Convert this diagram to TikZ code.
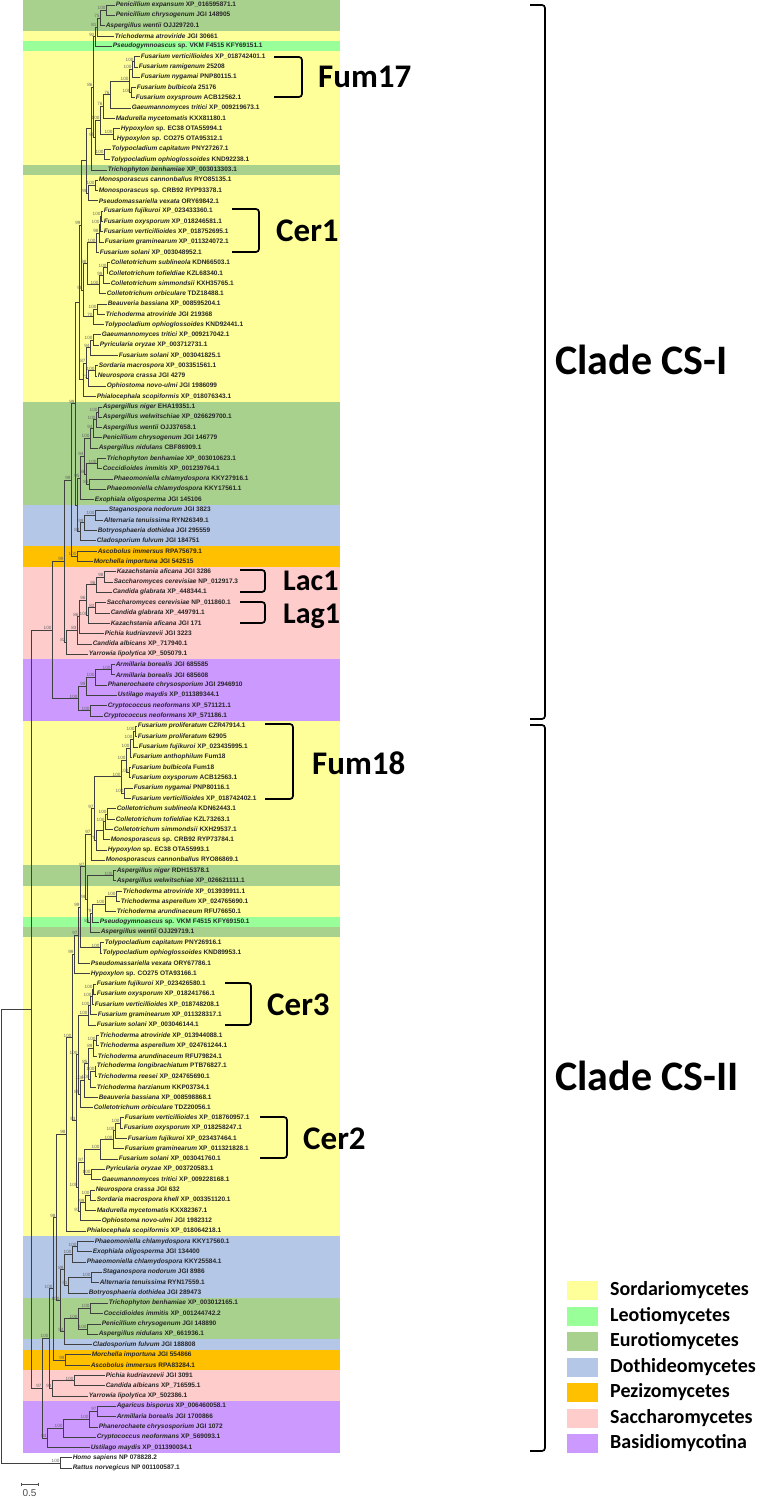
\documentclass[tikz,border=0pt]{standalone}
\usepackage{fontspec}
\setmainfont{Liberation Sans}
\newfontfamily\carl{Carlito}
\usetikzlibrary{calc}
\definecolor{cSor}{RGB}{255,255,153}
\definecolor{cLeo}{RGB}{153,255,153}
\definecolor{cEur}{RGB}{169,209,142}
\definecolor{cDot}{RGB}{180,199,231}
\definecolor{cPez}{RGB}{255,192,0}
\definecolor{cSac}{RGB}{255,204,204}
\definecolor{cBas}{RGB}{204,153,255}
\newcommand\band[3]{\fill[#1] (23,{5+(#2-1.5)*10.303}) rectangle (340,{5+(#3-0.5)*10.303});}
\newcommand\lf[4]{\coordinate (L#1) at (#2,{5+(#1-1)*10.303}); \node[leaf] at (L#1) {\textit{#3} #4};}
\newcommand\cl[5]{\path let \p1=($(#4)!0.5!(#5)$) in (#2pt,\y1) coordinate (#1); \draw[br] (#1) |- (#4); \draw[br] (#1) |- (#5); \node[bs] at (#1) {#3};}
\begin{document}
\begin{tikzpicture}[x=1pt,y=-1pt,
  leaf/.style={anchor=west,inner sep=0.6pt,font=\fontsize{6.5}{7}\selectfont\bfseries,text=black!85},
  br/.style={draw=black!75,line width=0.55pt},
  bs/.style={anchor=south east,inner sep=0.2pt,xshift=-0.2pt,font=\fontsize{4.6}{5}\selectfont,text=black!60},
  brk/.style={draw=black,line width=1.7pt,rounded corners=3pt},
  big/.style={anchor=west,inner sep=0pt,font=\carl\bfseries\fontsize{33}{33}\selectfont},
  bigs/.style={anchor=west,inner sep=0pt,font=\carl\bfseries\fontsize{30}{30}\selectfont},
  clade/.style={anchor=west,inner sep=0pt,font=\carl\bfseries\fontsize{42}{42}\selectfont},
  leg/.style={anchor=west,inner sep=0pt,font=\carl\bfseries\fontsize{20}{20}\selectfont}]
\useasboundingbox (0,0) rectangle (776,1498);
\fill[white] (0,0) rectangle (776,1498);
% bands
\band{cEur}{1}{3}
\band{cSor}{4}{4}
\band{cLeo}{5}{5}
\band{cSor}{6}{16}
\band{cEur}{17}{17}
\band{cSor}{18}{39}
\band{cEur}{40}{49}
\band{cDot}{50}{53}
\band{cPez}{54}{55}
\band{cSac}{56}{64}
\band{cBas}{65}{70}
\band{cSor}{71}{84}
\band{cEur}{85}{86}
\band{cSor}{87}{89}
\band{cLeo}{90}{90}
\band{cEur}{91}{91}
\band{cSor}{92}{120}
\band{cDot}{121}{126}
\band{cEur}{127}{130}
\band{cDot}{131}{131}
\band{cPez}{132}{133}
\band{cSac}{134}{136}
\band{cBas}{137}{141}
% leaves
\lf{1}{115}{Penicillium expansum}{XP\_016595871.1}
\lf{2}{115}{Penicillium chrysogenum}{JGI 148905}
\lf{3}{105}{Aspergillus wentii}{OJJ29720.1}
\lf{4}{114}{Trichoderma atroviride}{JGI 30661}
\lf{5}{112}{Pseudogymnoascus}{sp. VKM F4515 KFY69151.1}
\lf{6}{140}{Fusarium verticillioides}{XP\_018742401.1}
\lf{7}{138}{Fusarium ramigenum}{25208}
\lf{8}{140}{Fusarium nygamai}{PNP80115.1}
\lf{9}{136}{Fusarium bulbicola}{25176}
\lf{10}{135}{Fusarium oxysproum}{ACB12562.1}
\lf{11}{131}{Gaeumannomyces tritici}{XP\_009219673.1}
\lf{12}{115}{Madurella mycetomatis}{KXX81180.1}
\lf{13}{120}{Hypoxylon}{sp. EC38 OTA55994.1}
\lf{14}{116}{Hypoxylon}{sp. CO275 OTA95312.1}
\lf{15}{111}{Tolypocladium capitatum}{PNY27267.1}
\lf{16}{110}{Tolypocladium ophioglossoides}{KND92238.1}
\lf{17}{107}{Trichophyton benhamiae}{XP\_003013303.1}
\lf{18}{98}{Monosporascus cannonballus}{RYO85135.1}
\lf{19}{98}{Monosporascus}{sp. CRB92 RYP93378.1}
\lf{20}{98}{Pseudomassariella vexata}{ORY69842.1}
\lf{21}{103}{Fusarium fujikuroi}{XP\_023433360.1}
\lf{22}{103}{Fusarium oxysporum}{XP\_018246581.1}
\lf{23}{103}{Fusarium verticillioides}{XP\_018752695.1}
\lf{24}{104}{Fusarium graminearum}{XP\_011324072.1}
\lf{25}{99}{Fusarium solani}{XP\_003048952.1}
\lf{26}{110}{Colletotrichum sublineola}{KDN66503.1}
\lf{27}{108}{Colletotrichum tofieldiae}{KZL68340.1}
\lf{28}{110}{Colletotrichum simmondsii}{KXH35765.1}
\lf{29}{106}{Colletotrichum orbiculare}{TDZ18488.1}
\lf{30}{107}{Beauveria bassiana}{XP\_008595204.1}
\lf{31}{105}{Trichoderma atroviride}{JGI 219368}
\lf{32}{104}{Tolypocladium ophioglossoides}{KND92441.1}
\lf{33}{101}{Gaeumannomyces tritici}{XP\_009217042.1}
\lf{34}{99}{Pyricularia oryzae}{XP\_003712731.1}
\lf{35}{118}{Fusarium solani}{XP\_003041825.1}
\lf{36}{98}{Sordaria macrospora}{XP\_003351561.1}
\lf{37}{97}{Neurospora crassa}{JGI 4279}
\lf{38}{106}{Ophiostoma novo-ulmi}{JGI 1986099}
\lf{39}{96}{Phialocephala scopiformis}{XP\_018076343.1}
\lf{40}{102}{Aspergillus niger}{EHA19351.1}
\lf{41}{102}{Aspergillus welwitschiae}{XP\_026629700.1}
\lf{42}{102}{Aspergillus wentii}{OJJ37658.1}
\lf{43}{102}{Penicillium chrysogenum}{JGI 146779}
\lf{44}{98}{Aspergillus nidulans}{CBF86909.1}
\lf{45}{106}{Trichophyton benhamiae}{XP\_003010623.1}
\lf{46}{102}{Coccidioides immitis}{XP\_001239764.1}
\lf{47}{113}{Phaeomoniella chlamydospora}{KKY27916.1}
\lf{48}{106}{Phaeomoniella chlamydospora}{KKY17561.1}
\lf{49}{94}{Exophiala oligosperma}{JGI 145106}
\lf{50}{108}{Staganospora nodorum}{JGI 3823}
\lf{51}{103}{Alternaria tenuissima}{RYN26349.1}
\lf{52}{97}{Botryosphaeria dothidea}{JGI 295559}
\lf{53}{96}{Cladosporium fulvum}{JGI 184751}
\lf{54}{97}{Ascobolus immersus}{RPA75679.1}
\lf{55}{93}{Morchella importuna}{JGI 542515}
\lf{56}{116}{Kazachstania aficana}{JGI 3286}
\lf{57}{113}{Saccharomyces cerevisiae}{NP\_012917.3}
\lf{58}{112}{Candida glabrata}{XP\_448344.1}
\lf{59}{106}{Saccharomyces cerevisiae}{NP\_011860.1}
\lf{60}{110}{Candida glabrata}{XP\_449791.1}
\lf{61}{110}{Kazachstania aficana}{JGI 171}
\lf{62}{104}{Pichia kudriavzevii}{JGI 3223}
\lf{63}{92}{Candida albicans}{XP\_717940.1}
\lf{64}{88}{Yarrowia lipolytica}{XP\_505079.1}
\lf{65}{115}{Armillaria borealis}{JGI 685585}
\lf{66}{115}{Armillaria borealis}{JGI 685608}
\lf{67}{107}{Phanerochaete chrysosporium}{JGI 2946910}
\lf{68}{117}{Ustilago maydis}{XP\_011389344.1}
\lf{69}{107}{Cryptococcus neoformans}{XP\_571121.1}
\lf{70}{103}{Cryptococcus neoformans}{XP\_571186.1}
\lf{71}{137}{Fusarium proliferatum}{CZR47914.1}
\lf{72}{137}{Fusarium proliferatum}{62905}
\lf{73}{138}{Fusarium fujikuroi}{XP\_023435995.1}
\lf{74}{132}{Fusarium anthophilum}{Fum18}
\lf{75}{131}{Fusarium bulbicola}{Fum18}
\lf{76}{131}{Fusarium oxysporum}{ACB12563.1}
\lf{77}{133}{Fusarium nygamai}{PNP80116.1}
\lf{78}{131}{Fusarium verticillioides}{XP\_018742402.1}
\lf{79}{116}{Colletotrichum sublineola}{KDN62443.1}
\lf{80}{115}{Colletotrichum tofieldiae}{KZL73263.1}
\lf{81}{113}{Colletotrichum simmondsii}{KXH29537.1}
\lf{82}{110}{Monosporascus}{sp. CRB92 RYP73784.1}
\lf{83}{107}{Hypoxylon}{sp. EC38 OTA55993.1}
\lf{84}{105}{Monosporascus cannonballus}{RYO86869.1}
\lf{85}{116}{Aspergillus niger}{RDH15378.1}
\lf{86}{116}{Aspergillus welwitschiae}{XP\_026621111.1}
\lf{87}{122}{Trichoderma atroviride}{XP\_013939911.1}
\lf{88}{120}{Trichoderma asperellum}{XP\_024765690.1}
\lf{89}{116}{Trichoderma arundinaceum}{RFU76650.1}
\lf{90}{99}{Pseudogymnoascus}{sp. VKM F4515 KFY69150.1}
\lf{91}{100}{Aspergillus wentii}{OJJ29719.1}
\lf{92}{104}{Tolypocladium capitatum}{PNY26916.1}
\lf{93}{102}{Tolypocladium ophioglossoides}{KND89953.1}
\lf{94}{90}{Pseudomassariella vexata}{ORY67786.1}
\lf{95}{90}{Hypoxylon}{sp. CO275 OTA93166.1}
\lf{96}{96}{Fusarium fujikuroi}{XP\_023426580.1}
\lf{97}{96}{Fusarium oxysporum}{XP\_018241766.1}
\lf{98}{94}{Fusarium verticillioides}{XP\_018748208.1}
\lf{99}{97}{Fusarium graminearum}{XP\_011328317.1}
\lf{100}{96}{Fusarium solani}{XP\_003046144.1}
\lf{101}{99}{Trichoderma atroviride}{XP\_013944088.1}
\lf{102}{99}{Trichoderma asperellum}{XP\_024761244.1}
\lf{103}{97}{Trichoderma arundinaceum}{RFU79824.1}
\lf{104}{96}{Trichoderma longibrachiatum}{PTB76827.1}
\lf{105}{97}{Trichoderma reesei}{XP\_024765690.1}
\lf{106}{96}{Trichoderma harzianum}{KKP03734.1}
\lf{107}{98}{Beauveria bassiana}{XP\_008598868.1}
\lf{108}{93}{Colletotrichum orbiculare}{TDZ20056.1}
\lf{109}{124}{Fusarium verticillioides}{XP\_018760957.1}
\lf{110}{123}{Fusarium oxysporum}{XP\_018258247.1}
\lf{111}{127}{Fusarium fujikuroi}{XP\_023437464.1}
\lf{112}{124}{Fusarium graminearum}{XP\_011321828.1}
\lf{113}{118}{Fusarium solani}{XP\_003041760.1}
\lf{114}{105}{Pyricularia oryzae}{XP\_003720583.1}
\lf{115}{101}{Gaeumannomyces tritici}{XP\_009228168.1}
\lf{116}{95}{Neurospora crassa}{JGI 632}
\lf{117}{96}{Sordaria macrospora khell}{XP\_003351120.1}
\lf{118}{96}{Madurella mycetomatis}{KXX82367.1}
\lf{119}{101}{Ophiostoma novo-ulmi}{JGI 1982312}
\lf{120}{86}{Phialocephala scopiformis}{XP\_018064218.1}
\lf{121}{94}{Phaeomoniella chlamydospora}{KKY17560.1}
\lf{122}{92}{Exophiala oligosperma}{JGI 134400}
\lf{123}{86}{Phaeomoniella chlamydospora}{KKY25584.1}
\lf{124}{102}{Staganospora nodorum}{JGI 8986}
\lf{125}{99}{Alternaria tenuissima}{RYN17559.1}
\lf{126}{88}{Botryosphaeria dothidea}{JGI 289473}
\lf{127}{108}{Trichophyton benhamiae}{XP\_003012165.1}
\lf{128}{103}{Coccidioides immitis}{XP\_001244742.2}
\lf{129}{101}{Penicillium chrysogenum}{JGI 148890}
\lf{130}{98}{Aspergillus nidulans}{XP\_661936.1}
\lf{131}{92}{Cladosporium fulvum}{JGI 188808}
\lf{132}{91}{Morchella importuna}{JGI 554866}
\lf{133}{90}{Ascobolus immersus}{RPA83284.1}
\lf{134}{105}{Pichia kudriavzevii}{JGI 3091}
\lf{135}{105}{Candida albicans}{XP\_716595.1}
\lf{136}{88}{Yarrowia lipolytica}{XP\_502386.1}
\lf{137}{116}{Agaricus bisporus}{XP\_006460058.1}
\lf{138}{116}{Armillaria borealis}{JGI 1700866}
\lf{139}{98}{Phanerochaete chrysosporium}{JGI 1072}
\lf{140}{96}{Cryptococcus neoformans}{XP\_569093.1}
\lf{141}{90}{Ustilago maydis}{XP\_011390034.1}
\lf{142}{72}{Homo sapiens}{NP 078828.2}
\lf{143}{72}{Rattus norvegicus}{NP 001100587.1}
% clade CS-I
\cl{a1}{106}{100}{L1}{L2}
\cl{a2}{100}{75}{a1}{L3}
\cl{a3}{97}{81}{a2}{L4}
\cl{a4}{95}{92}{a3}{L5}
\cl{f1}{134}{100}{L6}{L7}
\cl{f2}{132}{100}{f1}{L8}
\cl{f3}{131}{100}{L9}{L10}
\cl{f4}{129}{100}{f2}{f3}
\cl{g1}{110}{76}{f4}{L11}
\cl{g2}{103}{76}{g1}{L12}
\cl{h1}{113}{100}{L13}{L14}
\cl{g3}{100}{100}{g2}{h1}
\cl{t1}{104}{100}{L15}{L16}
\cl{g4}{95}{95}{g3}{t1}
\cl{g5}{93}{86}{a4}{g4}
\cl{g6}{91}{}{g5}{L17}
\cl{m1}{95}{100}{L18}{L19}
\cl{m2}{88}{98}{m1}{L20}
\cl{q1}{86}{}{g6}{m2}
\cl{c1}{101}{100}{L21}{L22}
\cl{c2}{100}{100}{c1}{L23}
\cl{c3}{99}{98}{c2}{L24}
\cl{c4}{96}{100}{c3}{L25}
\cl{k1}{107}{100}{L26}{L27}
\cl{k2}{103}{99}{k1}{L28}
\cl{k3}{99}{100}{k2}{L29}
\cl{k4}{87}{98}{c4}{k3}
\cl{b1}{97}{100}{L30}{L31}
\cl{b2}{93}{70}{b1}{L32}
\cl{q2}{83}{98}{k4}{b2}
\cl{q3}{81}{99}{q1}{q2}
\cl{p1}{93}{100}{L33}{L34}
\cl{p2}{90}{94}{p1}{L35}
\cl{s1}{95}{100}{L36}{L37}
\cl{s2}{88}{73}{s1}{L38}
\cl{s3}{86}{87}{p2}{s2}
\cl{s4}{83}{}{s3}{L39}
\cl{S}{79}{}{q3}{s4}
\cl{e1}{98}{100}{L40}{L41}
\cl{e2}{96}{100}{e1}{L42}
\cl{e3}{93}{94}{e2}{L43}
\cl{e4}{90}{100}{e3}{L44}
\cl{e5}{97}{100}{L45}{L46}
\cl{e6}{89}{81}{L47}{L48}
\cl{e7}{86}{86}{e5}{e6}
\cl{e8}{84}{94}{e4}{e7}
\cl{e9}{80}{95}{e8}{L49}
\cl{d1}{95}{100}{L50}{L51}
\cl{d2}{84}{99}{d1}{L52}
\cl{d3}{80}{83}{d2}{L53}
\cl{ED}{77}{}{e9}{d3}
\cl{X}{75}{99}{S}{ED}
\cl{pz}{77}{100}{L54}{L55}
\cl{PZ}{71}{99}{X}{pz}
\cl{y1}{104}{98}{L56}{L57}
\cl{y2}{96}{96}{y1}{L58}
\cl{y3}{95}{82}{L59}{L60}
\cl{y4}{88}{100}{y3}{L61}
\cl{y5}{86}{96}{y2}{y4}
\cl{y6}{79}{86}{y5}{L62}
\cl{y7}{77}{83}{y6}{L63}
\cl{SA}{66}{82}{y7}{L64}
\cl{P65}{64}{99}{PZ}{SA}
\cl{ba1}{111}{100}{L65}{L66}
\cl{ba2}{95}{100}{ba1}{L67}
\cl{ba3}{86}{99}{ba2}{L68}
\cl{cr1}{90}{100}{L69}{L70}
\cl{ba4}{78}{100}{ba3}{cr1}
\cl{CSa}{52}{100}{P65}{ba4}
% clade CS-II
\cl{u1}{135}{100}{L71}{L72}
\cl{u2}{133}{100}{u1}{L73}
\cl{u3}{130}{100}{u2}{L74}
\cl{u4}{129}{100}{L75}{L76}
\cl{u5}{126}{100}{u3}{u4}
\cl{u6}{124}{100}{L77}{L78}
\cl{u7}{121}{100}{u5}{u6}
\cl{v1}{107}{100}{L79}{L80}
\cl{v2}{105}{100}{v1}{L81}
\cl{v3}{103}{}{v2}{L82}
\cl{v4}{96}{79}{v3}{L83}
\cl{u8}{94}{97}{u7}{v4}
\cl{u9}{91}{97}{u8}{L84}
\cl{w1}{113}{100}{L85}{L86}
\cl{t21}{116}{100}{L87}{L88}
\cl{t22}{105}{100}{t21}{L89}
\cl{t23}{92}{79}{t22}{L90}
\cl{t24}{90}{85}{t23}{L91}
\cl{t25}{87}{98}{w1}{t24}
\cl{B1}{85}{87}{u9}{t25}
\cl{t26}{100}{100}{L92}{L93}
\cl{B2}{80}{99}{B1}{t26}
\cl{B3}{78}{97}{B2}{L94}
\cl{B4}{74}{99}{B3}{L95}
\cl{c31}{93}{100}{L96}{L97}
\cl{c32}{92}{100}{c31}{L98}
\cl{c33}{90}{100}{c32}{L99}
\cl{c34}{88}{100}{c33}{L100}
\cl{r1}{96}{100}{L101}{L102}
\cl{r2}{93}{89}{r1}{L103}
\cl{r3}{95}{100}{L104}{L105}
\cl{r4}{90}{100}{r3}{L106}
\cl{r5}{88}{85}{r2}{r4}
\cl{r6}{84}{100}{r5}{L107}
\cl{r7}{80}{85}{r6}{L108}
\cl{K1}{78}{100}{c34}{r7}
\cl{z1}{120}{100}{L109}{L110}
\cl{z2}{115}{100}{z1}{L111}
\cl{z3}{113}{100}{z2}{L112}
\cl{z4}{100}{100}{z3}{L113}
\cl{py}{91}{100}{L114}{L115}
\cl{z5}{84}{97}{z4}{py}
\cl{n1}{90}{100}{L116}{L117}
\cl{n2}{85}{99}{n1}{L118}
\cl{n3}{80}{97}{n2}{L119}
\cl{n4}{78}{100}{z5}{n3}
\cl{K2}{76}{93}{K1}{n4}
\cl{K3}{72}{100}{B4}{K2}
\cl{K4}{66}{98}{K3}{L120}
\cl{o1}{77}{100}{L121}{L122}
\cl{o2}{72}{100}{o1}{L123}
\cl{o3}{91}{100}{L124}{L125}
\cl{o4}{68}{91}{o3}{L126}
\cl{DO}{64}{89}{o2}{o4}
\cl{h21}{90}{100}{L127}{L128}
\cl{h22}{87}{100}{L129}{L130}
\cl{h23}{78}{100}{h21}{h22}
\cl{EU}{64}{94}{h23}{L131}
\cl{DE}{60}{100}{DO}{EU}
\cl{K5}{56}{98}{K4}{DE}
\cl{pz2}{65}{99}{L132}{L133}
\cl{PZ2}{53}{100}{K5}{pz2}
\cl{sa1}{74}{100}{L134}{L135}
\cl{sa2}{52}{98}{sa1}{L136}
\cl{A2}{49}{100}{PZ2}{sa2}
\cl{bb1}{97}{97}{L137}{L138}
\cl{bb2}{89}{100}{bb1}{L139}
\cl{bb3}{63}{100}{bb2}{L140}
\cl{bb4}{47}{84}{bb3}{L141}
\cl{CSb}{42}{97}{A2}{bb4}
\cl{FUN}{31}{}{CSa}{CSb}
\cl{AN}{60}{100}{L142}{L143}
\cl{ROOT}{1}{}{FUN}{AN}
% scale bar
\coordinate (sb1) at (21,1484); \coordinate (sb2) at (38,1484);
\draw[black!70,line width=0.6pt] (sb1) -- (sb2) (21,1482.5) -- (21,1485.5) (38,1482.5) -- (38,1485.5);
\node[font=\fontsize{10}{10}\selectfont,text=black!70,inner sep=0pt] at (29.5,1493) {0.5};
% group brackets
\draw[brk] (274,57) -- (302,57) -- (302,97) -- (274,97);
\node[big] at (318,77) {Fum17};
\draw[brk] (232,209) -- (259,209) -- (259,252) -- (232,252);
\node[big] at (276,231) {Cer1};
\draw[brk] (240,570) -- (265,570) -- (265,592) -- (240,592);
\node[bigs] at (283,581) {Lac1};
\draw[brk] (240,602) -- (265,602) -- (265,623) -- (240,623);
\node[bigs] at (283,616) {Lag1};
\draw[brk] (265,724) -- (293,724) -- (293,799) -- (265,799);
\node[big] at (312,763) {Fum18};
\draw[brk] (225,983) -- (251,983) -- (251,1025) -- (225,1025);
\node[big] at (267,1005) {Cer3};
\draw[brk] (260,1117) -- (287,1117) -- (287,1158) -- (260,1158);
\node[big] at (303,1139) {Cer2};
% clade brackets
\draw[brk] (530,5) -- (545,5) -- (545,719) -- (530,719);
\node[clade] at (555,360) {Clade CS-I};
\draw[brk] (530,725) -- (545,725) -- (545,1451) -- (530,1451);
\node[clade] at (555,1076) {Clade CS-II};
% legend
\foreach \c/\t [count=\i from 0] in {cSor/Sordariomycetes,cLeo/Leotiomycetes,cEur/Eurotiomycetes,cDot/Dothideomycetes,cPez/Pezizomycetes,cSac/Saccharomycetes,cBas/Basidiomycotina}{
  \fill[\c] (567,{1281+\i*25.5}) rectangle (598,{1300+\i*25.5});
  \node[leg] at (610,{1290.5+\i*25.5}) {\t};
}
\end{tikzpicture}
\end{document}
